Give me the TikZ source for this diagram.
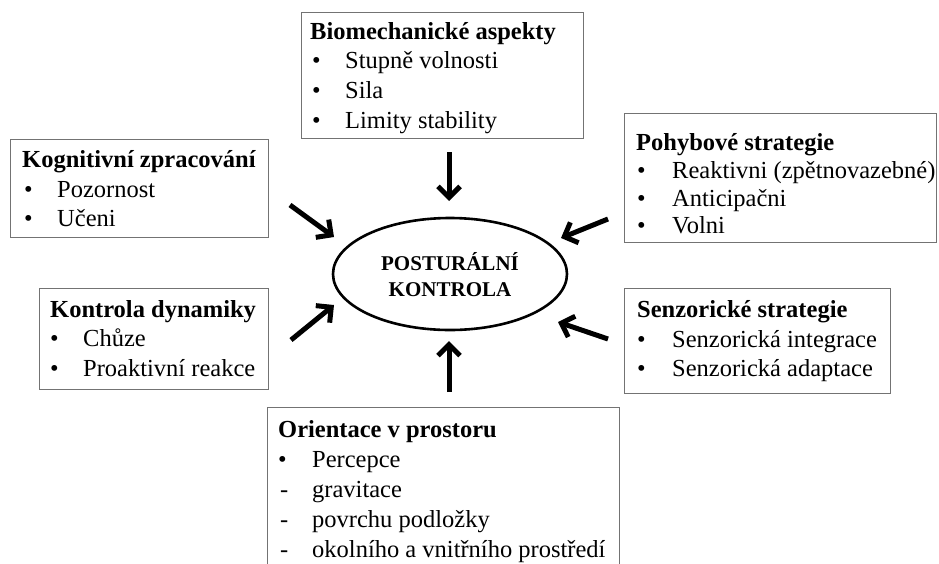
\documentclass[tikz,border=0pt]{standalone}
\usepackage{fontspec}
\setmainfont{Liberation Serif}
\usetikzlibrary{arrows.meta,shapes.geometric}
\begin{document}
\begin{tikzpicture}[x=1pt,y=-1pt,
  box/.style={draw=black!55, line width=1.4pt, inner sep=0, anchor=north west},
  hd/.style={font=\fontsize{24.5}{29}\selectfont\bfseries, anchor=base west, inner sep=0},
  it/.style={font=\fontsize{24.5}{29}\selectfont, anchor=base west, inner sep=0},
  ctr/.style={font=\fontsize{21}{26}\selectfont\bfseries, anchor=base, inner sep=0},
  arr/.style={line width=5pt, -{Straight Barb[length=11pt,width=22pt]}}]
\useasboundingbox (0,0) rectangle (939,563);
\fill[white] (0,0) rectangle (939,563);

% boxes
\node[box, minimum width=282, minimum height=126] (bio) at (301,12) {};
\node[box, minimum width=258, minimum height=98] (kog) at (10,139) {};
\node[box, minimum width=312, minimum height=129] (poh) at (624,113) {};
\node[box, minimum width=229, minimum height=101] (kon) at (39,288) {};
\node[box, minimum width=266, minimum height=105] (sen) at (624,288) {};
\node[box, minimum width=352, minimum height=170] (ori) at (267,407) {};

% centre
\node[draw, ellipse, line width=2.6pt, minimum width=234, minimum height=112, inner sep=0] (pk) at (450,274) {};
\node[ctr] (pk1) at (450,270) {POSTURÁLNÍ};
\node[ctr] (pk2) at (450,296) {KONTROLA};

% Biomechanické aspekty
\node[hd] (bioh) at (310,39) {Biomechanické aspekty};
\node[it] (biob1) at (312,68) {•};
\node[it] (biot1) at (345,68) {Stupně volnosti};
\node[it] (biob2) at (312,98) {•};
\node[it] (biot2) at (345,98) {Sila};
\node[it] (biob3) at (312,128) {•};
\node[it] (biot3) at (345,128) {Limity stability};

% Kognitivní zpracování
\node[hd] (kogh) at (22,167) {Kognitivní zpracování};
\node[it] (kogb1) at (24,197) {•};
\node[it] (kogt1) at (57,197) {Pozornost};
\node[it] (kogb2) at (24,226) {•};
\node[it] (kogt2) at (57,226) {Učeni};

% Pohybové strategie
\node[hd] (pohh) at (636,150) {Pohybové strategie};
\node[it] (pohb1) at (637,178) {•};
\node[it] (poht1) at (672,178) {Reaktivni (zpětnovazebné)};
\node[it] (pohb2) at (637,206) {•};
\node[it] (poht2) at (672,206) {Anticipačni};
\node[it] (pohb3) at (637,233) {•};
\node[it] (poht3) at (672,233) {Volni};

% Kontrola dynamiky
\node[hd] (konh) at (50,317) {Kontrola dynamiky};
\node[it] (konb1) at (50,346) {•};
\node[it] (kont1) at (83,346) {Chůze};
\node[it] (konb2) at (50,376) {•};
\node[it] (kont2) at (83,376) {Proaktivní reakce};

% Senzorické strategie
\node[hd] (senh) at (637,317) {Senzorické strategie};
\node[it] (senb1) at (637,347) {•};
\node[it] (sent1) at (672,347) {Senzorická integrace};
\node[it] (senb2) at (637,376) {•};
\node[it] (sent2) at (672,376) {Senzorická adaptace};

% Orientace v prostoru
\node[hd] (orih) at (278,437) {Orientace v prostoru};
\node[it] (orib1) at (278,467) {•};
\node[it] (orit1) at (312,467) {Percepce};
\node[it] (orib2) at (280,497) {-};
\node[it] (orit2) at (312,497) {gravitace};
\node[it] (orib3) at (280,527) {-};
\node[it] (orit3) at (312,527) {povrchu podložky};
\node[it] (orib4) at (280,557) {-};
\node[it] (orit4) at (312,557) {okolního a vnitřního prostředí};

% arrows
\coordinate (t1) at (449,152); \coordinate (h1) at (449,201);
\coordinate (t2) at (290,205); \coordinate (h2) at (334,237);
\coordinate (t3) at (608,219); \coordinate (h3) at (561,238);
\coordinate (t4) at (291,340); \coordinate (h4) at (334,305);
\coordinate (t5) at (608,339); \coordinate (h5) at (558,322);
\coordinate (t6) at (449,392); \coordinate (h6) at (449,341);
\draw[arr] (t1) -- (h1);
\draw[arr] (t2) -- (h2);
\draw[arr] (t3) -- (h3);
\draw[arr] (t4) -- (h4);
\draw[arr] (t5) -- (h5);
\draw[arr] (t6) -- (h6);
\end{tikzpicture}
\end{document}
